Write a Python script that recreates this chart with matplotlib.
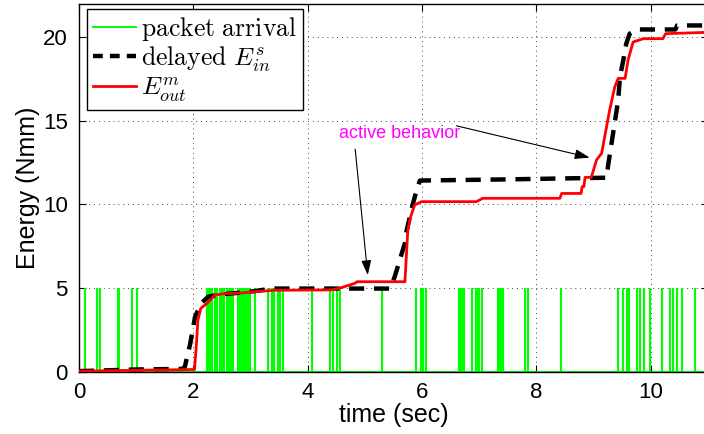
import matplotlib
matplotlib.use("Agg")
import matplotlib.pyplot as plt
from matplotlib.lines import Line2D

plt.rcParams['mathtext.fontset'] = 'cm'
plt.rcParams['font.family'] = ['Liberation Sans', 'DejaVu Sans']

# packet arrival instants (sec); each is drawn as an impulse of height 5
packet_times = [0.10, 0.31, 0.36, 0.68, 0.70, 0.93, 1.01,
                2.24, 2.26, 2.29, 2.33, 2.38, 2.41, 2.47, 2.50, 2.53, 2.58,
                2.61, 2.64, 2.67, 2.69, 2.78, 2.81, 2.84, 2.87, 2.90, 2.93,
                2.96, 2.99, 3.08, 3.30, 3.37, 3.41, 3.48, 3.51, 3.57,
                4.07, 4.39, 4.44, 4.51, 4.56, 5.30, 5.89, 5.98, 6.01, 6.07,
                6.65, 6.68, 6.71, 6.73, 6.87, 6.94, 6.97, 7.00, 7.05,
                7.33, 7.35, 7.38, 7.41, 7.80, 7.85, 8.43,
                9.42, 9.51, 9.58, 9.62, 9.76, 9.81, 9.88, 9.98,
                10.19, 10.33, 10.38, 10.45, 10.54, 10.77]
packet_height = 5

# delayed input energy E_in^s
t_in = [0.0, 0.5, 1.0, 1.5, 1.80, 1.85, 1.94, 2.03, 2.14, 2.26, 2.50, 2.97,
        3.37, 5.44, 5.52, 5.70, 5.73, 5.84, 5.90, 5.96, 7.50, 9.23, 9.25,
        9.34, 9.43, 9.46, 9.52, 9.57, 9.63, 9.75, 10.43, 10.46, 11.0]
e_in = [0.05, 0.10, 0.15, 0.17, 0.18, 0.30, 1.60, 3.30, 4.10, 4.50, 4.64, 4.78,
        4.98, 4.98, 5.68, 7.70, 8.45, 10.05, 10.80, 11.43, 11.50, 11.60, 12.26,
        14.25, 16.24, 17.63, 18.63, 19.60, 20.20, 20.45, 20.45, 20.69, 20.69]

# output energy E_out^m
t_out = [0.0, 1.0, 2.02, 2.05, 2.08, 2.13, 2.24, 2.38, 2.55, 2.84, 3.19, 3.43,
         4.42, 4.59, 4.83, 4.86, 5.70, 5.75, 5.80, 5.87, 5.99, 6.95, 7.06,
         8.41, 8.44, 8.78, 8.80, 8.83, 8.85, 8.96, 9.05, 9.14, 9.28, 9.37,
         9.43, 9.55, 9.60, 9.69, 9.87, 10.21, 10.26, 11.0]
e_out = [0.05, 0.10, 0.15, 1.50, 3.10, 3.80, 4.10, 4.60, 4.68, 4.72, 4.82, 4.88,
         4.90, 5.04, 5.30, 5.39, 5.39, 8.48, 9.27, 9.97, 10.17, 10.17, 10.37,
         10.37, 10.66, 10.66, 11.07, 11.07, 11.62, 11.62, 12.66, 13.06, 15.64, 17.03,
         17.53, 17.53, 18.60, 19.70, 19.90, 19.90, 20.20, 20.28]

x_ticks = [0, 2, 4, 6, 8, 10]
y_ticks = [0, 5, 10, 15, 20]

fig = plt.figure(figsize=(7.04, 4.34), dpi=100)
ax = fig.add_axes([0.1122, 0.1429, 0.8935, 0.849])

green = '#00FF00'
ax.vlines(packet_times, 0, packet_height, colors=green, lw=1.5, zorder=2)
ax.plot([0, 11], [0, 0], color=green, lw=1.4, zorder=2)
ax.plot(t_in, e_in, color='black', lw=3.2, dashes=(3.4, 2.2), zorder=3)
ax.plot(t_out, e_out, color='#FF0000', lw=2.0, zorder=4)

ax.set_xlim(0, 11)
ax.set_ylim(0, 22)
ax.set_xticks(x_ticks)
ax.set_yticks(y_ticks)
ax.tick_params(direction='in', length=5, width=0.8, labelsize=16,
               top=True, right=True)
ax.tick_params(axis='x', pad=7)
ax.tick_params(axis='y', pad=8)
ax.grid(True, linestyle=(0, (1, 4)), color='#444444', lw=0.7)
for s in ax.spines.values():
    s.set_linewidth(1.0)

ax.set_xlabel('time (sec)', fontsize=18, labelpad=0)
ax.set_ylabel('Energy (Nmm)', fontsize=18, labelpad=2)

arrow_kw = dict(arrowstyle='-|>,head_length=0.9,head_width=0.3',
                color='black', lw=0.8, shrinkA=0, shrinkB=0)
ax.annotate('', xy=(5.05, 5.78), xytext=(4.83, 13.3), arrowprops=arrow_kw)
ax.annotate('', xy=(8.93, 12.8), xytext=(6.6, 14.7), arrowprops=arrow_kw)
ax.text(5.6, 14.25, 'active behavior', color='#FF00FF', fontsize=13,
        ha='center', va='center')

handles = [Line2D([], [], color=green, lw=1.4),
           Line2D([], [], color='black', lw=3.2, dashes=(2.2, 1.6)),
           Line2D([], [], color='#FF0000', lw=2.0)]
labels = [r'$\mathrm{packet\ arrival}\ \ $',
          r'$\mathrm{delayed}\ E_{in}^{s}$',
          r'$E_{out}^{m}$']
leg = ax.legend(handles, labels, loc='upper left',
                bbox_to_anchor=(0.0127, 0.986), borderaxespad=0,
                fontsize=18.5, fancybox=False, framealpha=1,
                edgecolor='black', handlelength=1.65, handletextpad=0.2,
                labelspacing=0.05, borderpad=0.25)
leg.get_frame().set_linewidth(1.0)

fig.savefig('out.png', dpi=100)
